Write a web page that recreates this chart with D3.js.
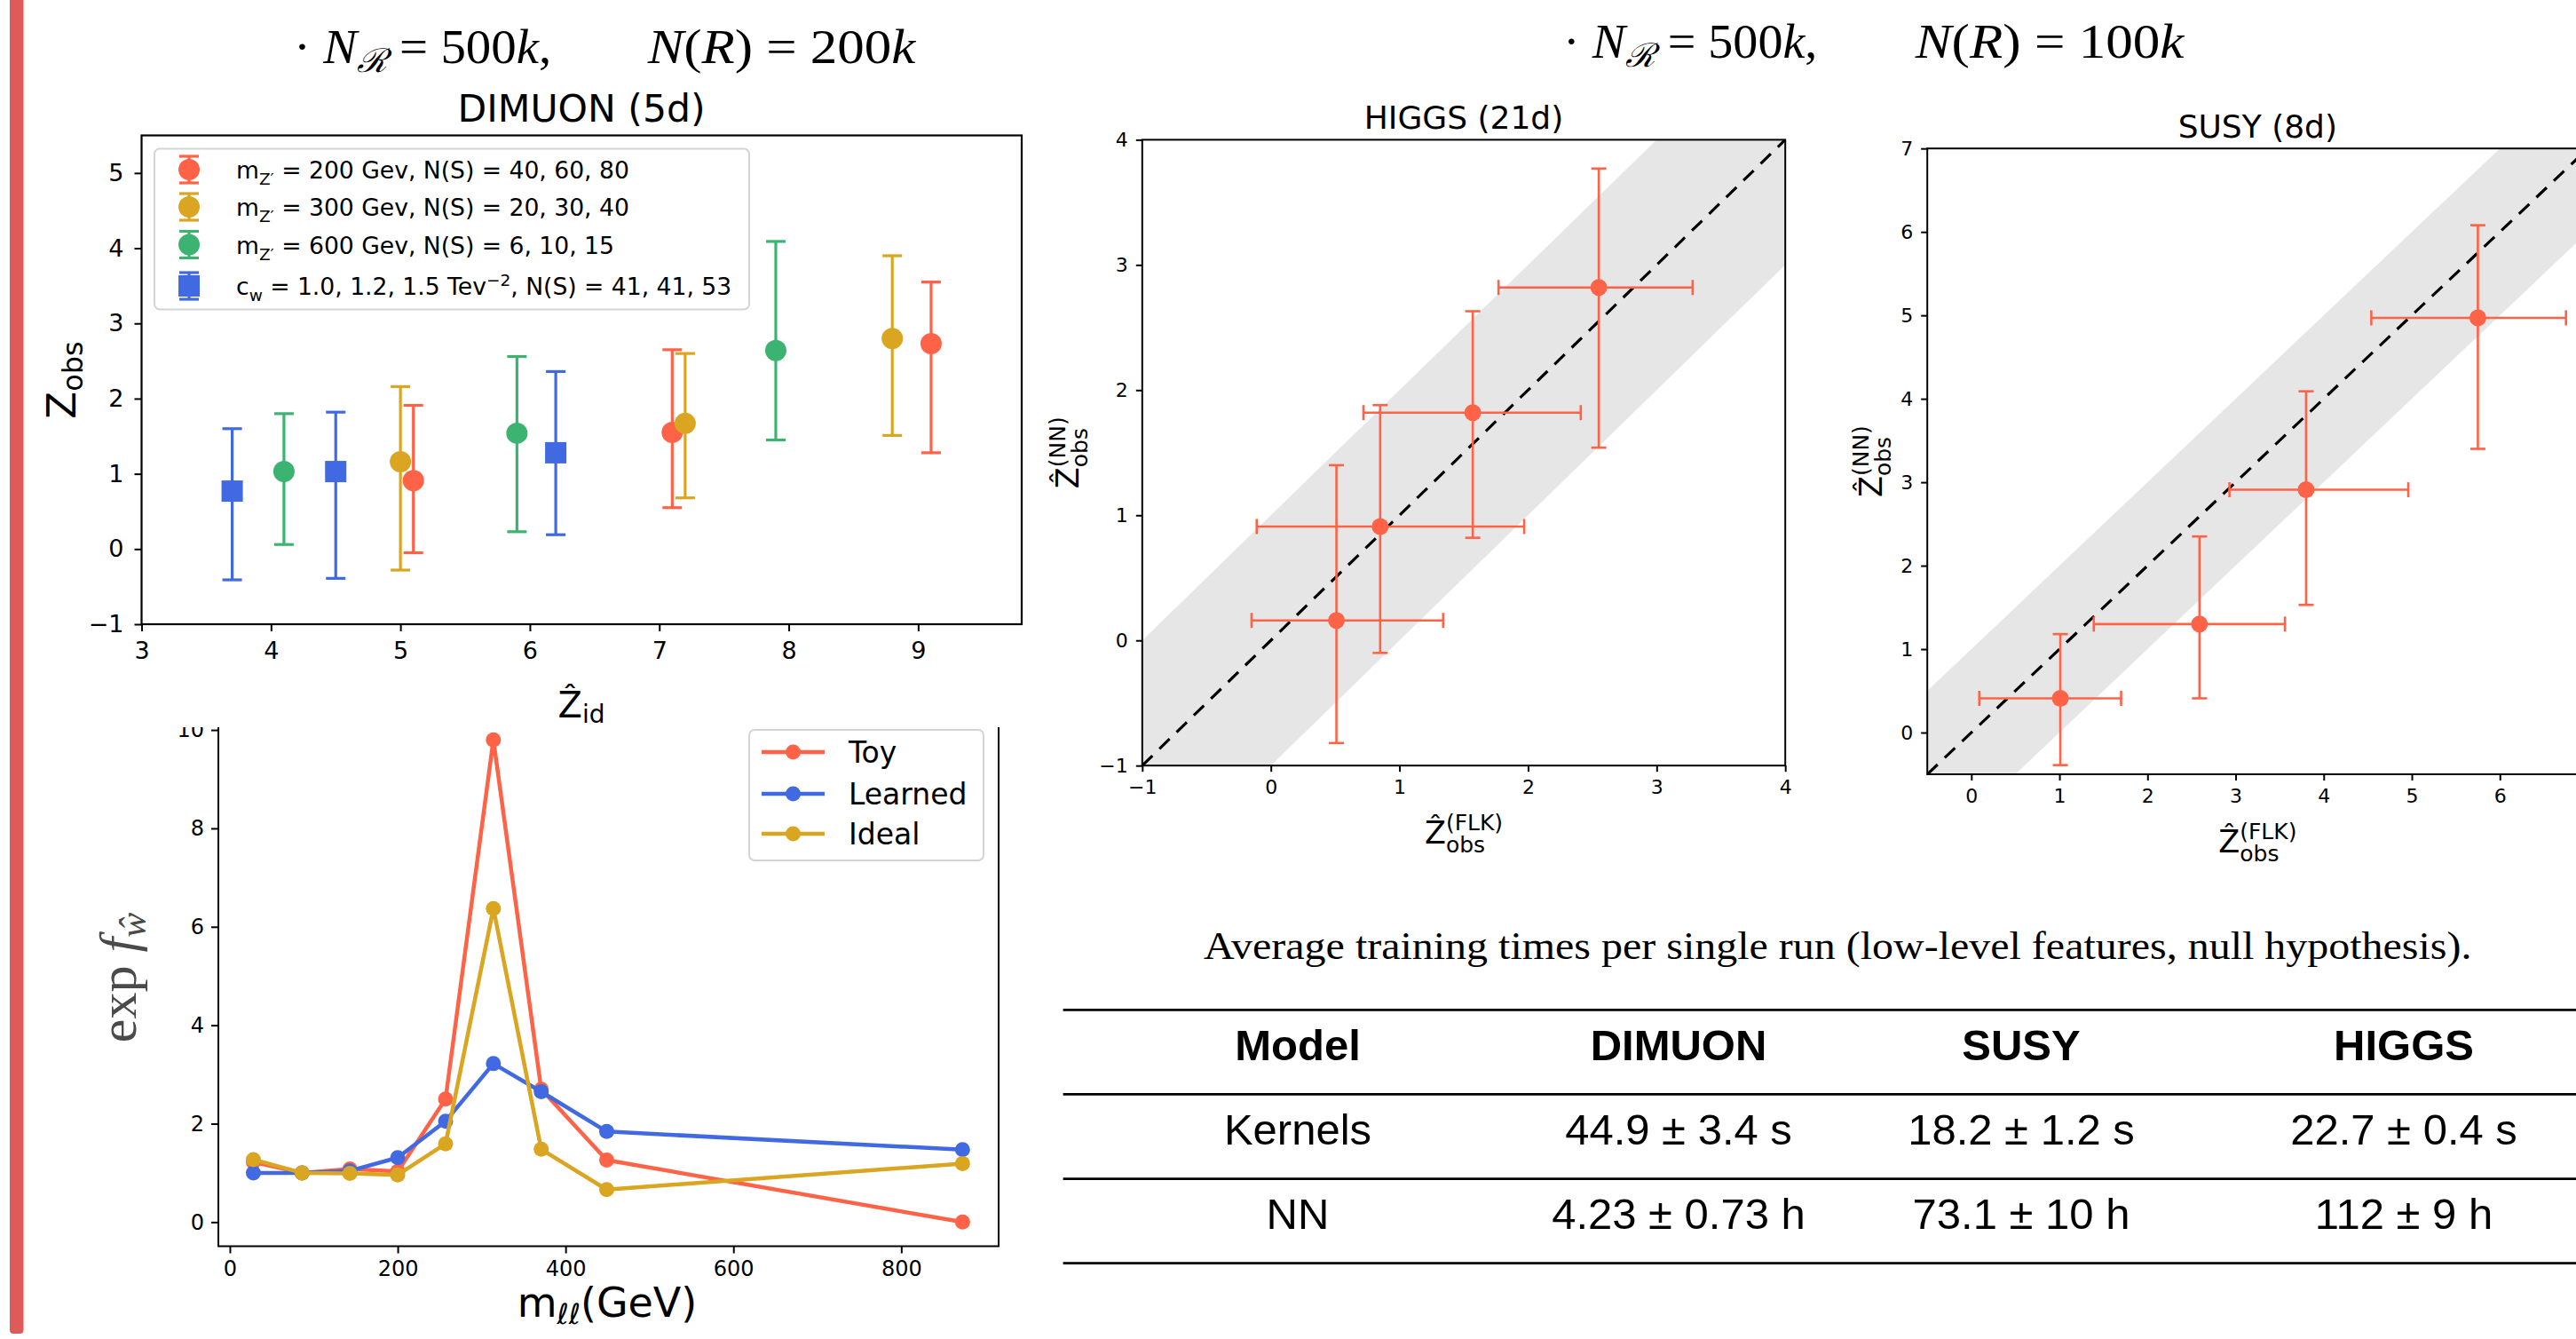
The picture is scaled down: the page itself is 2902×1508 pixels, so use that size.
<!DOCTYPE html>
<html>
<head>
<meta charset="utf-8">
<script src="https://cdn.jsdelivr.net/npm/d3@7"></script>
<style>
  body { margin: 0; background: #fff; }
  svg { display: block; font-family: "DejaVu Sans", sans-serif; }
</style>
</head>
<body>
<svg id="slide"></svg>
<script>
// ---- DIMUON (5d): Z_obs vs Z_id, one set of lists per signal ----
const mz200X = [5.1, 7.1, 9.1];
const mz200Y = [0.91, 1.55, 2.73];
const mz200Lo = [-0.05, 0.55, 1.28];
const mz200Hi = [1.91, 2.65, 3.55];

const mz300X = [5.0, 7.2, 8.8];
const mz300Y = [1.16, 1.67, 2.80];
const mz300Lo = [-0.28, 0.68, 1.51];
const mz300Hi = [2.16, 2.60, 3.90];

const mz600X = [4.1, 5.9, 7.9];
const mz600Y = [1.03, 1.54, 2.64];
const mz600Lo = [0.06, 0.23, 1.45];
const mz600Hi = [1.80, 2.56, 4.09];

const cwX = [3.7, 4.5, 6.2];
const cwY = [0.77, 1.03, 1.28];
const cwLo = [-0.41, -0.39, 0.19];
const cwHi = [1.60, 1.82, 2.36];

// ---- exp f_w against m_ll ----
const massBins = [28, 86, 143, 200, 257, 314, 371, 449, 873];
const toyW = [1.22, 1.00, 1.08, 1.03, 2.50, 9.80, 2.70, 1.26, 0.00];
const learnedW = [1.00, 1.00, 1.04, 1.31, 2.05, 3.22, 2.65, 1.84, 1.47];
const idealW = [1.27, 1.00, 0.99, 0.96, 1.59, 6.37, 1.48, 0.66, 1.19];

// ---- HIGGS (21d): NN vs FLK ----
const higgsX = [0.51, 0.85, 1.57, 2.55];
const higgsXLo = [-0.15, -0.11, 0.72, 1.77];
const higgsXHi = [1.34, 1.97, 2.41, 3.28];
const higgsY = [0.16, 0.91, 1.82, 2.82];
const higgsYLo = [-0.82, -0.10, 0.82, 1.54];
const higgsYHi = [1.40, 1.88, 2.63, 3.77];

// ---- SUSY (8d): NN vs FLK ----
const susyX = [1.01, 2.59, 3.80, 5.75];
const susyXLo = [0.09, 1.39, 2.93, 4.54];
const susyXHi = [1.70, 3.56, 4.96, 6.75];
const susyY = [0.41, 1.30, 2.91, 4.97];
const susyYLo = [-0.39, 0.41, 1.53, 3.40];
const susyYHi = [1.18, 2.35, 4.09, 6.08];

// ---- training times ----
const tableHeader = ["Model", "DIMUON", "SUSY", "HIGGS"];
const kernelTimes = ["Kernels", "44.9 ± 3.4 s", "18.2 ± 1.2 s", "22.7 ± 0.4 s"];
const nnTimes = ["NN", "4.23 ± 0.73 h", "73.1 ± 10 h", "112 ± 9 h"];

const W = 2902, H = 1508;
const SANS = "DejaVu Sans";
const SERIF = "Liberation Serif";
const RED = "#ff6347", GOLD = "#daa520", GREEN = "#3cb371", BLUE = "#4169e1";

const svg = d3.select("#slide").attr("width", W).attr("height", H);
svg.append("rect").attr("width", W).attr("height", H).attr("fill", "#fff");
// slide accent bar
svg.append("rect").attr("x", 11).attr("y", -10).attr("width", 15.5).attr("height", H + 4)
    .attr("rx", 4).attr("fill", "#df5b5b");

// ticks + frame, matplotlib look
function axes(g, x, y, o) {
    let [x0, x1] = x.range(), [y0, y1] = y.range();
    let fmt = d3.format("d");
    let xa = g.append("g").attr("transform", `translate(0,${y0})`)
        .call(d3.axisBottom(x).tickValues(o.xTicks).tickSize(o.tick).tickPadding(o.xPad).tickFormat(fmt));
    let ya = g.append("g").attr("transform", `translate(${x0},0)`)
        .call(d3.axisLeft(y).tickValues(o.yTicks).tickSize(o.tick).tickPadding(o.yPad).tickFormat(fmt));
    [xa, ya].forEach(a => {
        a.attr("font-family", SANS).attr("font-size", o.font);
        a.select(".domain").remove();
        a.selectAll(".tick line").attr("stroke", "#000").attr("stroke-width", 2);
        a.selectAll(".tick text").attr("fill", "#000");
    });
    g.append("rect").attr("x", x0).attr("y", y1).attr("width", x1 - x0).attr("height", y0 - y1)
        .attr("fill", "none").attr("stroke", "#000").attr("stroke-width", o.spine || 2);
}

// base letter with stacked sub/superscript (mathtext style)
function scriptLabel(parent, o) {
    let g = parent.append("g").attr("transform", `translate(${o.x},${o.y}) rotate(${o.rotate || 0})`);
    let inner = g.append("g");
    let b = inner.append("text").attr("font-size", o.size).text(o.base);
    let bw = b.node().getComputedTextLength();
    let w = bw;
    if (o.sub) {
        let s = inner.append("text").attr("x", bw).attr("y", o.subDy).attr("font-size", o.small).text(o.sub);
        w = Math.max(w, bw + s.node().getComputedTextLength());
    }
    if (o.sup) {
        let s = inner.append("text").attr("x", bw).attr("y", o.supDy).attr("font-size", o.small).text(o.sup);
        w = Math.max(w, bw + s.node().getComputedTextLength());
    }
    inner.attr("transform", `translate(${-w / 2},0)`);
}

// text made of pieces, some lowered or raised
function richText(sel, parts, small, shift) {
    let cur = 0;
    parts.forEach(p => {
        let t = sel.append("tspan").text(p.t);
        let want = p.sub ? shift : p.sup ? -shift * 1.5 : 0;
        if (want !== cur) t.attr("dy", want - cur);
        cur = want;
        if (p.sub || p.sup) t.attr("font-size", small);
        if (p.it) t.attr("font-style", "italic");
    });
}

// ================= DIMUON =================
const dim = svg.append("g");
const xD = d3.scaleLinear().domain([3, 9.8]).range([159.5, 1151]);
const yD = d3.scaleLinear().domain([-1, 5.5]).range([703, 152.5]);

const dimuonSeries = [
    { x: mz200X, y: mz200Y, lo: mz200Lo, hi: mz200Hi, color: RED, shape: "circle",
      label: [{ t: "m" }, { t: "Z′", sub: true }, { t: " = 200 Gev, N(S) = 40, 60, 80" }] },
    { x: mz300X, y: mz300Y, lo: mz300Lo, hi: mz300Hi, color: GOLD, shape: "circle",
      label: [{ t: "m" }, { t: "Z′", sub: true }, { t: " = 300 Gev, N(S) = 20, 30, 40" }] },
    { x: mz600X, y: mz600Y, lo: mz600Lo, hi: mz600Hi, color: GREEN, shape: "circle",
      label: [{ t: "m" }, { t: "Z′", sub: true }, { t: " = 600 Gev, N(S) = 6, 10, 15" }] },
    { x: cwX, y: cwY, lo: cwLo, hi: cwHi, color: BLUE, shape: "square",
      label: [{ t: "c" }, { t: "w", sub: true }, { t: " = 1.0, 1.2, 1.5 Tev" }, { t: "−2", sup: true }, { t: ", N(S) = 41, 41, 53" }] }
];

function marker(g, shape, cx, cy, color, size) {
    if (shape === "square") {
        g.append("rect").attr("x", cx - size).attr("y", cy - size).attr("width", size * 2).attr("height", size * 2)
            .attr("fill", color);
    } else {
        g.append("circle").attr("cx", cx).attr("cy", cy).attr("r", size).attr("fill", color);
    }
}

dimuonSeries.forEach(s => {
    let g = dim.append("g").attr("stroke", s.color).attr("stroke-width", 3.2);
    s.x.forEach((v, i) => {
        let px = xD(v);
        g.append("line").attr("x1", px).attr("x2", px).attr("y1", yD(s.lo[i])).attr("y2", yD(s.hi[i]));
        [s.lo[i], s.hi[i]].forEach(e => g.append("line")
            .attr("x1", px - 11).attr("x2", px + 11).attr("y1", yD(e)).attr("y2", yD(e)));
        marker(dim, s.shape, px, yD(s.y[i]), s.color, 12);
    });
});

axes(dim, xD, yD, { xTicks: d3.range(3, 10), yTicks: d3.range(-1, 6), tick: 8, xPad: 12, yPad: 12, font: 27, spine: 2.2 });

dim.append("text").attr("x", 655).attr("y", 137).attr("text-anchor", "middle")
    .attr("font-size", 42.5).text("DIMUON (5d)");
scriptLabel(dim, { base: "Ẑ", sub: "id", x: 655, y: 808, size: 40, small: 28, subDy: 6 });
scriptLabel(dim, { base: "Z", sub: "obs", x: 85, y: 428, rotate: -90, size: 45, small: 32, subDy: 8 });

// legend
const legD = dim.append("g");
legD.append("rect").attr("x", 174).attr("y", 167.5).attr("width", 670).attr("height", 181)
    .attr("rx", 6).attr("fill", "#fff").attr("fill-opacity", 0.85).attr("stroke", "#d4d4d4").attr("stroke-width", 2);
const legRows = [191, 233, 275.5, 322];
dimuonSeries.forEach((s, i) => {
    let cy = legRows[i], cx = 213;
    let g = legD.append("g").attr("stroke", s.color).attr("stroke-width", 3.2);
    g.append("line").attr("x1", cx).attr("x2", cx).attr("y1", cy - 15).attr("y2", cy + 15);
    g.append("line").attr("x1", cx - 11).attr("x2", cx + 11).attr("y1", cy - 15).attr("y2", cy - 15);
    g.append("line").attr("x1", cx - 11).attr("x2", cx + 11).attr("y1", cy + 15).attr("y2", cy + 15);
    marker(legD, s.shape, cx, cy, s.color, 12);
    let t = legD.append("text").attr("x", 266).attr("y", cy + 10).attr("font-size", 26.6);
    richText(t, s.label, 18.5, 7);
});

// ================= exp f_w =================
const wg = svg.append("g");
wg.append("clipPath").attr("id", "cropW").append("rect")
    .attr("x", 0).attr("y", 819).attr("width", 1180).attr("height", H - 819);
const wPlot = wg.append("g").attr("clip-path", "url(#cropW)");
const xW = d3.scaleLinear().domain([-13.7, 916]).range([246, 1125]);
const yW = d3.scaleLinear().domain([-0.49, 10.29]).range([1403.5, 806]);

const wSeries = [
    { name: "Toy", values: toyW, color: RED },
    { name: "Learned", values: learnedW, color: BLUE },
    { name: "Ideal", values: idealW, color: GOLD }
];
const wLine = d3.line().x((d, i) => xW(massBins[i])).y(d => yW(d));
wSeries.forEach(s => {
    wPlot.append("path").attr("d", wLine(s.values)).attr("fill", "none")
        .attr("stroke", s.color).attr("stroke-width", 4.5).attr("stroke-linejoin", "round");
    wPlot.selectAll(null).data(s.values).join("circle")
        .attr("cx", (d, i) => xW(massBins[i])).attr("cy", d => yW(d)).attr("r", 8.5).attr("fill", s.color);
});
axes(wPlot, xW, yW, { xTicks: [0, 200, 400, 600, 800], yTicks: [0, 2, 4, 6, 8, 10], tick: 8, xPad: 8, yPad: 8, font: 24, spine: 2 });

// x label m_ll(GeV)
const mLab = wg.append("text").attr("x", 684).attr("y", 1483).attr("text-anchor", "middle").attr("font-size", 46);
richText(mLab, [{ t: "m" }, { t: "ℓℓ", sub: true, it: true }, { t: "(GeV)" }], 32, 8);
// y label exp f_w
const fLab = wg.append("text").attr("transform", "translate(153,1101) rotate(-90)")
    .attr("text-anchor", "middle").attr("font-family", SERIF).attr("font-size", 60).attr("fill", "#4a4a4a");
richText(fLab, [{ t: "exp " }, { t: "f", it: true }, { t: "ŵ", sub: true, it: true }], 42, 11);

// legend
const legW = wg.append("g");
legW.append("rect").attr("x", 844).attr("y", 822).attr("width", 264).attr("height", 147)
    .attr("rx", 6).attr("fill", "#fff").attr("stroke", "#d4d4d4").attr("stroke-width", 2);
const legWRows = [847, 894, 939];
wSeries.forEach((s, i) => {
    let cy = legWRows[i];
    legW.append("line").attr("x1", 858).attr("x2", 929).attr("y1", cy).attr("y2", cy)
        .attr("stroke", s.color).attr("stroke-width", 4.5);
    legW.append("circle").attr("cx", 893.5).attr("cy", cy).attr("r", 8.5).attr("fill", s.color);
    legW.append("text").attr("x", 956).attr("y", cy + 12).attr("font-size", 33).text(s.name);
});

// ================= HIGGS / SUSY scatter panels =================
function flkPanel(o) {
    let g = svg.append("g");
    let x = d3.scaleLinear().domain(o.dom).range(o.xr);
    let y = d3.scaleLinear().domain(o.dom).range(o.yr);
    g.append("clipPath").attr("id", o.id).append("rect")
        .attr("x", o.xr[0]).attr("y", o.yr[1]).attr("width", o.xr[1] - o.xr[0]).attr("height", o.yr[0] - o.yr[1]);
    let inside = g.append("g").attr("clip-path", `url(#${o.id})`);
    let diag = [o.dom[0] - 2, o.dom[1] + 2];
    inside.append("path").attr("fill", "#e6e6e6")
        .attr("d", d3.area().x(d => x(d)).y0(d => y(d - 1)).y1(d => y(d + 1))(diag));
    inside.append("path").attr("fill", "none").attr("stroke", "#000").attr("stroke-width", 3.2)
        .attr("stroke-dasharray", "16,11")
        .attr("d", d3.line().x(d => x(d)).y(d => y(d))(o.dom));

    let eb = g.append("g").attr("stroke", RED).attr("stroke-width", 2.6);
    o.px.forEach((v, i) => {
        let cx = x(v), cy = y(o.py[i]);
        eb.append("line").attr("x1", x(o.pxLo[i])).attr("x2", x(o.pxHi[i])).attr("y1", cy).attr("y2", cy);
        eb.append("line").attr("x1", cx).attr("x2", cx).attr("y1", y(o.pyLo[i])).attr("y2", y(o.pyHi[i]));
        [o.pxLo[i], o.pxHi[i]].forEach(e => eb.append("line")
            .attr("x1", x(e)).attr("x2", x(e)).attr("y1", cy - 8.5).attr("y2", cy + 8.5));
        [o.pyLo[i], o.pyHi[i]].forEach(e => eb.append("line")
            .attr("x1", cx - 8.5).attr("x2", cx + 8.5).attr("y1", y(e)).attr("y2", y(e)));
    });
    g.selectAll(null).data(o.px).join("circle")
        .attr("cx", d => x(d)).attr("cy", (d, i) => y(o.py[i])).attr("r", 9.5).attr("fill", RED);

    axes(g, x, y, { xTicks: o.xTicks, yTicks: o.yTicks, tick: 7, xPad: 9, yPad: 9, font: 22, spine: 2 });
    g.append("text").attr("x", (o.xr[0] + o.xr[1]) / 2).attr("y", o.yr[1] - 12).attr("text-anchor", "middle")
        .attr("font-size", 36).text(o.title);
    scriptLabel(g, { base: "Ẑ", sub: "obs", sup: "(FLK)", x: (o.xr[0] + o.xr[1]) / 2, y: o.yr[0] + 88,
        size: 35, small: 25, subDy: 10, supDy: -15 });
    scriptLabel(g, { base: "Ẑ", sub: "obs", sup: "(NN)", x: o.ylabX, y: (o.yr[0] + o.yr[1]) / 2, rotate: -90,
        size: 35, small: 25, subDy: 10, supDy: -15 });
}

flkPanel({ id: "clipH", title: "HIGGS (21d)", dom: [-1, 4], xr: [1286.8, 2011.2], yr: [862.2, 157.4],
    xTicks: d3.range(-1, 5), yTicks: d3.range(-1, 5), ylabX: 1215,
    px: higgsX, pxLo: higgsXLo, pxHi: higgsXHi, py: higgsY, pyLo: higgsYLo, pyHi: higgsYHi });
flkPanel({ id: "clipS", title: "SUSY (8d)", dom: [-0.5, 7], xr: [2171.2, 2915.5], yr: [872, 167.2],
    xTicks: d3.range(0, 7), yTicks: d3.range(0, 8), ylabX: 2120,
    px: susyX, pxLo: susyXLo, pxHi: susyXHi, py: susyY, pyLo: susyYLo, pyHi: susyYHi });

// ================= headers =================
function fitText(t, x0, x1, base) {
    let bb = t.node().getBBox();
    let sx = (x1 - x0) / bb.width;
    t.attr("transform", `translate(${x0 - bb.x * sx},${base}) scale(${sx},1)`);
}
function header(xs, base, nRef, nR) {
    let a = svg.append("text").attr("font-family", SERIF).attr("font-size", 54);
    richText(a, [{ t: "· " }, { t: "N", it: true }, { t: "ℛ", sub: true, it: true },
        { t: " = " + nRef.slice(0, -1) }, { t: nRef.slice(-1), it: true }, { t: "," }], 37, 10);
    fitText(a, xs[0], xs[1], base);
    let b = svg.append("text").attr("font-family", SERIF).attr("font-size", 54);
    richText(b, [{ t: "N", it: true }, { t: "(" }, { t: "R", it: true }, { t: ") = " + nR.slice(0, -1) },
        { t: nR.slice(-1), it: true }], 37, 10);
    fitText(b, xs[2], xs[3], base);
}
header([331, 621, 728.5, 1032.5], 71, "500k", "200k");
header([1761, 2047, 2156.7, 2461.7], 65, "500k", "100k");

// ================= table =================
const cap = svg.append("text").attr("font-family", SERIF).attr("font-size", 45)
    .text("Average training times per single run (low-level features, null hypothesis).");
fitText(cap, 1356, 2785, 1080);

const colX = [1462, 1891, 2277, 2708];
const rowBase = [1194, 1288.5, 1383.5];
const rules = [1137.3, 1232.3, 1327.7, 1422.7];
svg.selectAll(null).data(rules).join("line")
    .attr("x1", 1197.6).attr("x2", W).attr("y1", d => d).attr("y2", d => d)
    .attr("stroke", "#000").attr("stroke-width", 2.8);
[tableHeader, kernelTimes, nnTimes].forEach((row, r) => {
    svg.selectAll(null).data(row).join("text")
        .attr("x", (d, i) => colX[i]).attr("y", rowBase[r]).attr("text-anchor", "middle")
        .attr("font-family", "Liberation Sans").attr("font-size", 49)
        .attr("font-weight", r === 0 ? "bold" : "normal").text(d => d);
});
</script>
</body>
</html>
